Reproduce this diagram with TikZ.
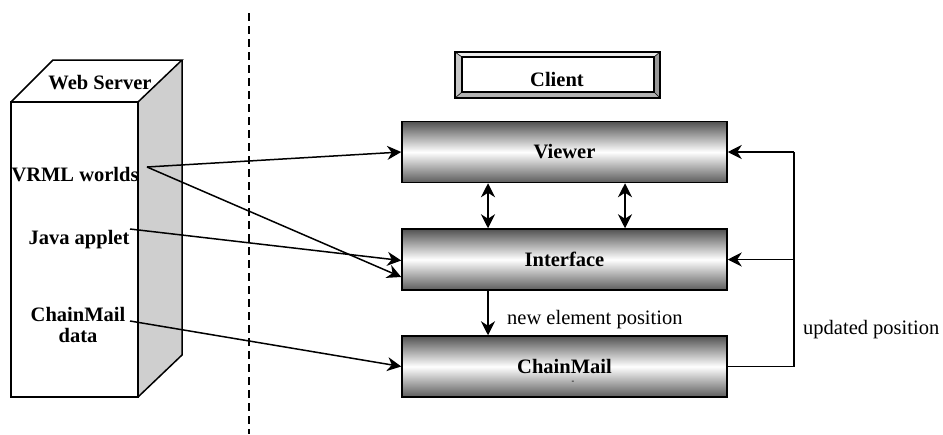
\documentclass[tikz,border=0pt]{standalone}
\usepackage{fontspec}
\setmainfont{Liberation Serif}
\usetikzlibrary{arrows.meta}
\tikzset{
  blk/.style={draw=black, line width=1.5pt, minimum width=325pt, minimum height=61pt, inner sep=0pt,
    top color=black!68, bottom color=black!64, middle color=white,
    font=\fontsize{20.5}{24}\selectfont\bfseries},
  conn/.style={line width=1.5pt, -{Stealth[length=14pt,width=14pt,inset=4.5pt]}},
  dconn/.style={line width=1.5pt, {Stealth[length=14pt,width=14pt,inset=4.5pt]}-{Stealth[length=14pt,width=14pt,inset=4.5pt]}},
  fline/.style={line width=1.5pt},
  lbl/.style={font=\fontsize{20.5}{24}\selectfont\bfseries, align=center, inner sep=0pt},
  plainlbl/.style={font=\fontsize{20.5}{24}\selectfont, inner sep=0pt},
  edge/.style={line width=1.5pt, line join=miter}
}
\begin{document}
\begin{tikzpicture}[x=1pt,y=-1pt]
\useasboundingbox (0,0) rectangle (943,434);

% dashed separator
\draw[line width=1.5pt, dash pattern=on 8pt off 5pt] (249,13) -- (249,434);

% Web server box
\fill[white] (11,102) -- (53,60) -- (182,60) -- (138,102) -- cycle;
\fill[black!19] (138,102) -- (182,60) -- (182,355) -- (138,397) -- cycle;
\draw[edge] (11,102) rectangle (138,397);
\draw[edge] (11,102) -- (53,60) -- (182,60) -- (138,102);
\draw[edge] (182,60) -- (182,355) -- (138,397);
\node[lbl] (ws) at (100,83) {Web Server};
\node[lbl] (vrml) at (75,175) {VRML worlds};
\node[lbl] (java) at (79,240) {Java applet};
\node[lbl] (cmdata) at (78,325) {ChainMail\\[-3pt]data};
\coordinate (vrmlpt) at (147,167);
\coordinate (javapt) at (130,229);
\coordinate (cmpt) at (130,321);

% Client
\fill[black!8] (455,52) -- (660,52) -- (654,57) -- (462,57) -- cycle;
\fill[black!22] (455,52) -- (462,57) -- (462,92) -- (455,98) -- cycle;
\fill[black!40] (660,52) -- (654,57) -- (654,92) -- (660,98) -- cycle;
\fill[black!30] (455,98) -- (462,92) -- (654,92) -- (660,98) -- cycle;
\draw[line width=1.5pt] (455,52) rectangle (660,98);
\draw[line width=1.4pt] (462,57) rectangle (654,92);
\draw[line width=0.6pt] (455,52) -- (462,57) (660,52) -- (654,57) (455,98) -- (462,92) (660,98) -- (654,92);
\node[lbl] (client) at (557,79) {Client};

% blocks
\node[blk] (viewer) at (564.5,152) {\raisebox{-7pt}{Viewer}};
\node[blk] (iface) at (564.5,259.5) {Interface};
\node[blk] (chain) at (564.5,366.5) {ChainMail};
\node[font=\fontsize{8}{8}\selectfont\bfseries, inner sep=0pt] (dash) at (573,382) {-};

% connectors from web server
\draw[conn] (vrmlpt) -- ([yshift=-17.5pt]iface.west);
\draw[conn] (vrmlpt) -- (viewer.west);
\draw[conn] (javapt) -- ([yshift=-1pt]iface.west);
\draw[conn] (cmpt) -- (chain.west);

% viewer <-> interface
\draw[dconn] ([xshift=-76.5pt]viewer.south) -- ([xshift=-76.5pt]iface.north);
\draw[dconn] ([xshift=60.5pt]viewer.south) -- ([xshift=60.5pt]iface.north);

% interface -> chainmail
\draw[conn] ([xshift=-76.5pt]iface.south) -- ([xshift=-76.5pt]chain.north);
\node[plainlbl, anchor=west] (nep) at (507,320) {new element position};

% feedback loop
\coordinate (fbtop) at (794,152);
\coordinate (fbmid) at (794,259.5);
\coordinate (fbbot) at (794,366.5);
\draw[fline] (chain.east) -- (fbbot) -- (fbtop);
\draw[conn] (fbtop) -- (viewer.east);
\draw[conn] (fbmid) -- (iface.east);
\node[plainlbl, anchor=west] (upd) at (803,330) {updated position};
\end{tikzpicture}
\end{document}
